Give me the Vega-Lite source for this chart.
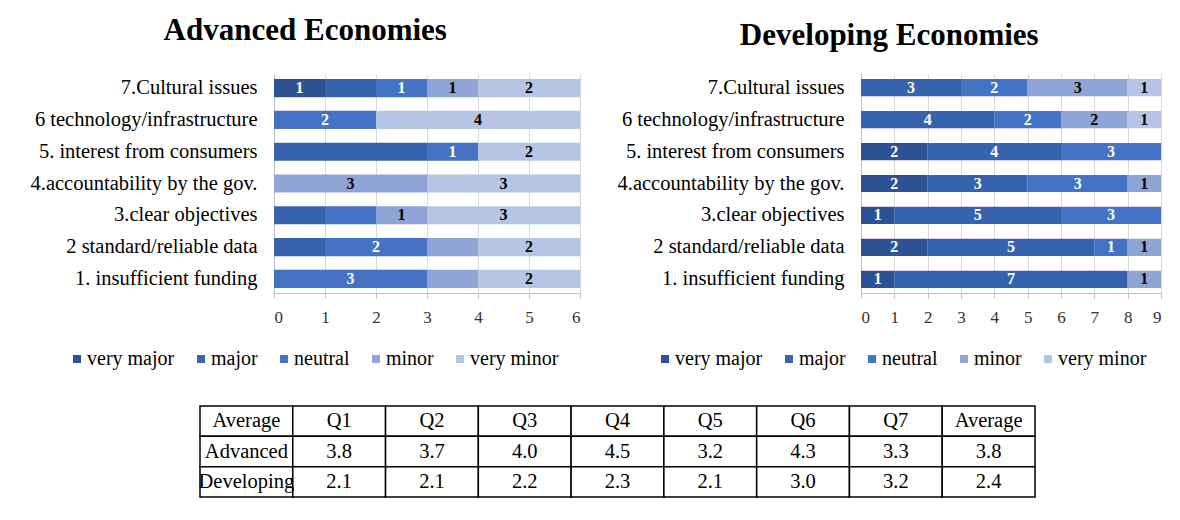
{
  "$schema": "https://vega.github.io/schema/vega-lite/v6.json",
  "padding": {"left": 30, "top": 15, "right": 5, "bottom": 5},
  "background": "white",
  "config": {"font": "Liberation Serif", "view": {"stroke": null}, "axis": {"labelOverlap": false}},
  "datasets": {
    "bars": [
      {"panel": "Advanced", "q": "7.Cultural issues", "cat": "very major", "v": 1, "lab": "1"},
      {"panel": "Advanced", "q": "7.Cultural issues", "cat": "major", "v": 1, "lab": ""},
      {"panel": "Advanced", "q": "7.Cultural issues", "cat": "neutral", "v": 1, "lab": "1"},
      {"panel": "Advanced", "q": "7.Cultural issues", "cat": "minor", "v": 1, "lab": "1"},
      {"panel": "Advanced", "q": "7.Cultural issues", "cat": "very minor", "v": 2, "lab": "2"},
      {"panel": "Advanced", "q": "6 technology/infrastructure", "cat": "neutral", "v": 2, "lab": "2"},
      {"panel": "Advanced", "q": "6 technology/infrastructure", "cat": "very minor", "v": 4, "lab": "4"},
      {"panel": "Advanced", "q": "5. interest from consumers", "cat": "major", "v": 3, "lab": ""},
      {"panel": "Advanced", "q": "5. interest from consumers", "cat": "neutral", "v": 1, "lab": "1"},
      {"panel": "Advanced", "q": "5. interest from consumers", "cat": "very minor", "v": 2, "lab": "2"},
      {"panel": "Advanced", "q": "4.accountability by the gov.", "cat": "minor", "v": 3, "lab": "3"},
      {"panel": "Advanced", "q": "4.accountability by the gov.", "cat": "very minor", "v": 3, "lab": "3"},
      {"panel": "Advanced", "q": "3.clear objectives", "cat": "major", "v": 1, "lab": ""},
      {"panel": "Advanced", "q": "3.clear objectives", "cat": "neutral", "v": 1, "lab": ""},
      {"panel": "Advanced", "q": "3.clear objectives", "cat": "minor", "v": 1, "lab": "1"},
      {"panel": "Advanced", "q": "3.clear objectives", "cat": "very minor", "v": 3, "lab": "3"},
      {"panel": "Advanced", "q": "2 standard/reliable data", "cat": "major", "v": 1, "lab": ""},
      {"panel": "Advanced", "q": "2 standard/reliable data", "cat": "neutral", "v": 2, "lab": "2"},
      {"panel": "Advanced", "q": "2 standard/reliable data", "cat": "minor", "v": 1, "lab": ""},
      {"panel": "Advanced", "q": "2 standard/reliable data", "cat": "very minor", "v": 2, "lab": "2"},
      {"panel": "Advanced", "q": "1. insufficient funding", "cat": "neutral", "v": 3, "lab": "3"},
      {"panel": "Advanced", "q": "1. insufficient funding", "cat": "minor", "v": 1, "lab": ""},
      {"panel": "Advanced", "q": "1. insufficient funding", "cat": "very minor", "v": 2, "lab": "2"},
      {"panel": "Developing", "q": "7.Cultural issues", "cat": "major", "v": 3, "lab": "3"},
      {"panel": "Developing", "q": "7.Cultural issues", "cat": "neutral", "v": 2, "lab": "2"},
      {"panel": "Developing", "q": "7.Cultural issues", "cat": "minor", "v": 3, "lab": "3"},
      {"panel": "Developing", "q": "7.Cultural issues", "cat": "very minor", "v": 1, "lab": "1"},
      {"panel": "Developing", "q": "6 technology/infrastructure", "cat": "major", "v": 4, "lab": "4"},
      {"panel": "Developing", "q": "6 technology/infrastructure", "cat": "neutral", "v": 2, "lab": "2"},
      {"panel": "Developing", "q": "6 technology/infrastructure", "cat": "minor", "v": 2, "lab": "2"},
      {"panel": "Developing", "q": "6 technology/infrastructure", "cat": "very minor", "v": 1, "lab": "1"},
      {"panel": "Developing", "q": "5. interest from consumers", "cat": "very major", "v": 2, "lab": "2"},
      {"panel": "Developing", "q": "5. interest from consumers", "cat": "major", "v": 4, "lab": "4"},
      {"panel": "Developing", "q": "5. interest from consumers", "cat": "neutral", "v": 3, "lab": "3"},
      {"panel": "Developing", "q": "4.accountability by the gov.", "cat": "very major", "v": 2, "lab": "2"},
      {"panel": "Developing", "q": "4.accountability by the gov.", "cat": "major", "v": 3, "lab": "3"},
      {"panel": "Developing", "q": "4.accountability by the gov.", "cat": "neutral", "v": 3, "lab": "3"},
      {"panel": "Developing", "q": "4.accountability by the gov.", "cat": "minor", "v": 1, "lab": "1"},
      {"panel": "Developing", "q": "3.clear objectives", "cat": "very major", "v": 1, "lab": "1"},
      {"panel": "Developing", "q": "3.clear objectives", "cat": "major", "v": 5, "lab": "5"},
      {"panel": "Developing", "q": "3.clear objectives", "cat": "neutral", "v": 3, "lab": "3"},
      {"panel": "Developing", "q": "2 standard/reliable data", "cat": "very major", "v": 2, "lab": "2"},
      {"panel": "Developing", "q": "2 standard/reliable data", "cat": "major", "v": 5, "lab": "5"},
      {"panel": "Developing", "q": "2 standard/reliable data", "cat": "neutral", "v": 1, "lab": "1"},
      {"panel": "Developing", "q": "2 standard/reliable data", "cat": "minor", "v": 1, "lab": "1"},
      {"panel": "Developing", "q": "1. insufficient funding", "cat": "very major", "v": 1, "lab": "1"},
      {"panel": "Developing", "q": "1. insufficient funding", "cat": "major", "v": 7, "lab": "7"},
      {"panel": "Developing", "q": "1. insufficient funding", "cat": "minor", "v": 1, "lab": "1"}
    ],
    "table": [
      {"row": "r0", "col": "c0", "t": "Average"},
      {"row": "r0", "col": "c1", "t": "Q1"},
      {"row": "r0", "col": "c2", "t": "Q2"},
      {"row": "r0", "col": "c3", "t": "Q3"},
      {"row": "r0", "col": "c4", "t": "Q4"},
      {"row": "r0", "col": "c5", "t": "Q5"},
      {"row": "r0", "col": "c6", "t": "Q6"},
      {"row": "r0", "col": "c7", "t": "Q7"},
      {"row": "r0", "col": "c8", "t": "Average"},
      {"row": "r1", "col": "c0", "t": "Advanced"},
      {"row": "r1", "col": "c1", "t": "3.8"},
      {"row": "r1", "col": "c2", "t": "3.7"},
      {"row": "r1", "col": "c3", "t": "4.0"},
      {"row": "r1", "col": "c4", "t": "4.5"},
      {"row": "r1", "col": "c5", "t": "3.2"},
      {"row": "r1", "col": "c6", "t": "4.3"},
      {"row": "r1", "col": "c7", "t": "3.3"},
      {"row": "r1", "col": "c8", "t": "3.8"},
      {"row": "r2", "col": "c0", "t": "Developing"},
      {"row": "r2", "col": "c1", "t": "2.1"},
      {"row": "r2", "col": "c2", "t": "2.1"},
      {"row": "r2", "col": "c3", "t": "2.2"},
      {"row": "r2", "col": "c4", "t": "2.3"},
      {"row": "r2", "col": "c5", "t": "2.1"},
      {"row": "r2", "col": "c6", "t": "3.0"},
      {"row": "r2", "col": "c7", "t": "3.2"},
      {"row": "r2", "col": "c8", "t": "2.4"}
    ]
  },
  "resolve": {"scale": {"x": "independent", "y": "independent", "color": "independent"}},
  "spacing": 36,
  "vconcat": [
    {
      "spacing": 36,
      "resolve": {"scale": {"x": "independent", "y": "independent", "color": "independent"}, "legend": {"color": "independent"}},
      "hconcat": [
        {
          "data": {"name": "bars"},
          "transform": [
            {"filter": "datum.panel === 'Advanced'"},
            {"calculate": "indexof(['very major','major','neutral','minor','very minor'], datum.cat)", "as": "k"},
            {"stack": "v", "groupby": ["q"], "sort": [{"field": "k", "order": "ascending"}], "as": ["x0", "x1"]},
            {"calculate": "(datum.x0 + datum.x1) / 2", "as": "xm"}
          ],
          "title": {"text": "Advanced Economies", "fontSize": 31, "fontWeight": "bold", "font": "Liberation Serif", "color": "#000000", "anchor": "middle", "frame": "bounds", "offset": 27},
          "width": 306,
          "height": 219,
          "encoding": {
            "y": {
              "field": "q", "type": "nominal",
              "sort": ["7.Cultural issues", "6 technology/infrastructure", "5. interest from consumers", "4.accountability by the gov.", "3.clear objectives", "2 standard/reliable data", "1. insufficient funding"],
              "scale": {"paddingInner": 0.43, "paddingOuter": 0.16},
              "axis": {"title": null, "labelFontSize": 20.5, "labelFont": "Liberation Serif", "labelColor": "#000000", "ticks": false, "domainColor": "#bfbfbf", "labelPadding": 17, "labelLimit": 400}
            }
          },
          "layer": [
            {
              "mark": {"type": "bar"},
              "encoding": {
                "x": {"field": "x0", "type": "quantitative", "scale": {"domain": [0, 6], "nice": false},
                  "axis": {"values": [0, 1, 2, 3, 4, 5, 6], "labelOverlap": false, "grid": true, "gridColor": "#d9d9d9", "domainColor": "#bfbfbf", "tickColor": "#bfbfbf", "tickSize": 5, "labelFontSize": 17, "labelFont": "Liberation Serif", "labelColor": "#333333", "title": null, "labelPadding": 11}},
                "x2": {"field": "x1"},
                "color": {
                  "field": "cat", "type": "nominal",
                  "scale": {"domain": ["very major", "major", "neutral", "minor", "very minor"], "range": ["#2e5394", "#3762ae", "#4472c4", "#8fa5d6", "#b6c4e6"]},
                  "legend": {"orient": "none", "legendX": -207, "legendY": 275, "direction": "horizontal", "title": null, "symbolType": "square", "symbolSize": 64, "symbolStrokeWidth": 0, "labelFontSize": 20, "labelFont": "Liberation Serif", "labelColor": "#000000", "columnPadding": 16, "labelOffset": 0}
                }
              }
            },
            {
              "mark": {"type": "text", "fontWeight": "bold", "fontSize": 16, "font": "Liberation Serif"},
              "encoding": {
                "x": {"field": "xm", "type": "quantitative",
                  "axis": {"values": [0, 1, 2, 3, 4, 5, 6], "labelOverlap": false, "grid": true, "gridColor": "#d9d9d9", "domainColor": "#bfbfbf", "tickColor": "#bfbfbf", "tickSize": 5, "labelFontSize": 17, "labelFont": "Liberation Serif", "labelColor": "#333333", "title": null, "labelPadding": 11}},
                "text": {"field": "lab"},
                "color": {"condition": {"test": "datum.k >= 3", "value": "#000000"}, "value": "#ffffff"}
              }
            }
          ]
        },
        {
          "data": {"name": "bars"},
          "transform": [
            {"filter": "datum.panel === 'Developing'"},
            {"calculate": "indexof(['very major','major','neutral','minor','very minor'], datum.cat)", "as": "k"},
            {"stack": "v", "groupby": ["q"], "sort": [{"field": "k", "order": "ascending"}], "as": ["x0", "x1"]},
            {"calculate": "(datum.x0 + datum.x1) / 2", "as": "xm"}
          ],
          "title": {"text": "Developing Economies", "fontSize": 31, "fontWeight": "bold", "font": "Liberation Serif", "color": "#000000", "anchor": "middle", "frame": "bounds", "offset": 22},
          "width": 300,
          "height": 219,
          "encoding": {
            "y": {
              "field": "q", "type": "nominal",
              "sort": ["7.Cultural issues", "6 technology/infrastructure", "5. interest from consumers", "4.accountability by the gov.", "3.clear objectives", "2 standard/reliable data", "1. insufficient funding"],
              "scale": {"paddingInner": 0.46, "paddingOuter": 0.16},
              "axis": {"title": null, "labelFontSize": 20.5, "labelFont": "Liberation Serif", "labelColor": "#000000", "ticks": false, "domainColor": "#bfbfbf", "labelPadding": 17, "labelLimit": 400}
            }
          },
          "layer": [
            {
              "mark": {"type": "bar"},
              "encoding": {
                "x": {"field": "x0", "type": "quantitative", "scale": {"domain": [0, 9], "nice": false},
                  "axis": {"values": [0, 1, 2, 3, 4, 5, 6, 7, 8, 9], "labelOverlap": false, "grid": true, "gridColor": "#d9d9d9", "domainColor": "#bfbfbf", "tickColor": "#bfbfbf", "tickSize": 5, "labelFontSize": 17, "labelFont": "Liberation Serif", "labelColor": "#333333", "title": null, "labelPadding": 11}},
                "x2": {"field": "x1"},
                "color": {
                  "field": "cat", "type": "nominal",
                  "scale": {"domain": ["very major", "major", "neutral", "minor", "very minor"], "range": ["#2e5394", "#3762ae", "#4472c4", "#8fa5d6", "#b6c4e6"]},
                  "legend": {"orient": "none", "legendX": -206, "legendY": 275, "direction": "horizontal", "title": null, "symbolType": "square", "symbolSize": 64, "symbolStrokeWidth": 0, "labelFontSize": 20, "labelFont": "Liberation Serif", "labelColor": "#000000", "columnPadding": 16, "labelOffset": 0}
                }
              }
            },
            {
              "mark": {"type": "text", "fontWeight": "bold", "fontSize": 16, "font": "Liberation Serif"},
              "encoding": {
                "x": {"field": "xm", "type": "quantitative",
                  "axis": {"values": [0, 1, 2, 3, 4, 5, 6, 7, 8, 9], "labelOverlap": false, "grid": true, "gridColor": "#d9d9d9", "domainColor": "#bfbfbf", "tickColor": "#bfbfbf", "tickSize": 5, "labelFontSize": 17, "labelFont": "Liberation Serif", "labelColor": "#333333", "title": null, "labelPadding": 11}},
                "text": {"field": "lab"},
                "color": {"condition": {"test": "datum.k >= 3", "value": "#000000"}, "value": "#ffffff"}
              }
            }
          ]
        }
      ]
    },
    {
      "data": {"name": "table"},
      "width": 835,
      "height": 91,
      "encoding": {
        "x": {"field": "col", "type": "ordinal", "scale": {"paddingInner": 0, "paddingOuter": 0, "range": [-74, 761]}, "axis": null},
        "y": {"field": "row", "type": "ordinal", "scale": {"paddingInner": 0, "paddingOuter": 0}, "axis": null}
      },
      "layer": [
        {"mark": {"type": "rect", "fill": "#ffffff", "stroke": "#000000", "strokeWidth": 1.5}},
        {"mark": {"type": "text", "fontSize": 20.5, "font": "Liberation Serif", "color": "#000000"}, "encoding": {"text": {"field": "t"}}}
      ]
    }
  ]
}
